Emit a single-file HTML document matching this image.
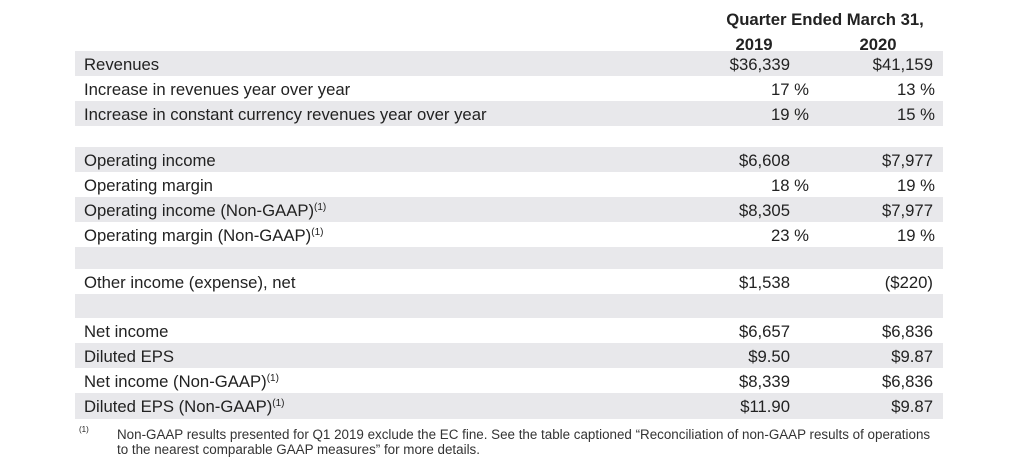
<!DOCTYPE html>
<html><head><meta charset="utf-8"><style>
body{margin:0;width:1014px;height:471px;background:#fff;position:relative;font-family:"Liberation Sans",Arial,sans-serif;color:#222;overflow:hidden}
.r{position:absolute;left:75px;width:868px;height:25px}
.g{background:#e8e8eb}
.l{position:absolute;left:9px;top:4px;font-size:16.7px;white-space:nowrap}
.v{position:absolute;top:4px;font-size:16.7px;text-align:right;white-space:nowrap}
.a{right:153px}.ap{right:134px}.b{right:10px}.bp{right:8px}
sup{font-size:10px;vertical-align:6px;line-height:0}
.h{position:absolute;font-weight:bold;font-size:16.7px;transform:translateX(-50%);white-space:nowrap}
</style></head><body>
<div class="h" style="left:825px;top:10px">Quarter Ended March 31,</div>
<div class="h" style="left:754px;top:35px">2019</div>
<div class="h" style="left:878px;top:35px">2020</div>

<div class="r g" style="top:51px"><span class="l">Revenues</span><span class="v a">$36,339</span><span class="v b">$41,159</span></div>
<div class="r" style="top:76px"><span class="l">Increase in revenues year over year</span><span class="v ap">17 %</span><span class="v bp">13 %</span></div>
<div class="r g" style="top:101px"><span class="l">Increase in constant currency revenues year over year</span><span class="v ap">19 %</span><span class="v bp">15 %</span></div>

<div class="r g" style="top:147px"><span class="l">Operating income</span><span class="v a">$6,608</span><span class="v b">$7,977</span></div>
<div class="r" style="top:172px"><span class="l">Operating margin</span><span class="v ap">18 %</span><span class="v bp">19 %</span></div>
<div class="r g" style="top:197px"><span class="l">Operating income (Non-GAAP)<sup>(1)</sup></span><span class="v a">$8,305</span><span class="v b">$7,977</span></div>
<div class="r" style="top:222px"><span class="l">Operating margin (Non-GAAP)<sup>(1)</sup></span><span class="v ap">23 %</span><span class="v bp">19 %</span></div>
<div class="r g" style="top:247px;height:22px"></div>
<div class="r" style="top:269px"><span class="l">Other income (expense), net</span><span class="v a">$1,538</span><span class="v b">($220)</span></div>
<div class="r g" style="top:294px;height:24px"></div>
<div class="r" style="top:318px"><span class="l">Net income</span><span class="v a">$6,657</span><span class="v b">$6,836</span></div>
<div class="r g" style="top:343px"><span class="l">Diluted EPS</span><span class="v a">$9.50</span><span class="v b">$9.87</span></div>
<div class="r" style="top:368px"><span class="l">Net income (Non-GAAP)<sup>(1)</sup></span><span class="v a">$8,339</span><span class="v b">$6,836</span></div>
<div class="r g" style="top:393px;height:26px"><span class="l">Diluted EPS (Non-GAAP)<sup>(1)</sup></span><span class="v a">$11.90</span><span class="v b">$9.87</span></div>

<div style="position:absolute;left:79px;top:425px;font-size:8px">(1)</div>
<div style="position:absolute;left:117px;top:427px;width:900px;font-size:13.4px;line-height:15px;color:#333;white-space:nowrap">Non-GAAP results presented for Q1 2019 exclude the EC fine. See the table captioned “Reconciliation of non-GAAP results of operations<br>to the nearest comparable GAAP measures” for more details.</div>
</body></html>
